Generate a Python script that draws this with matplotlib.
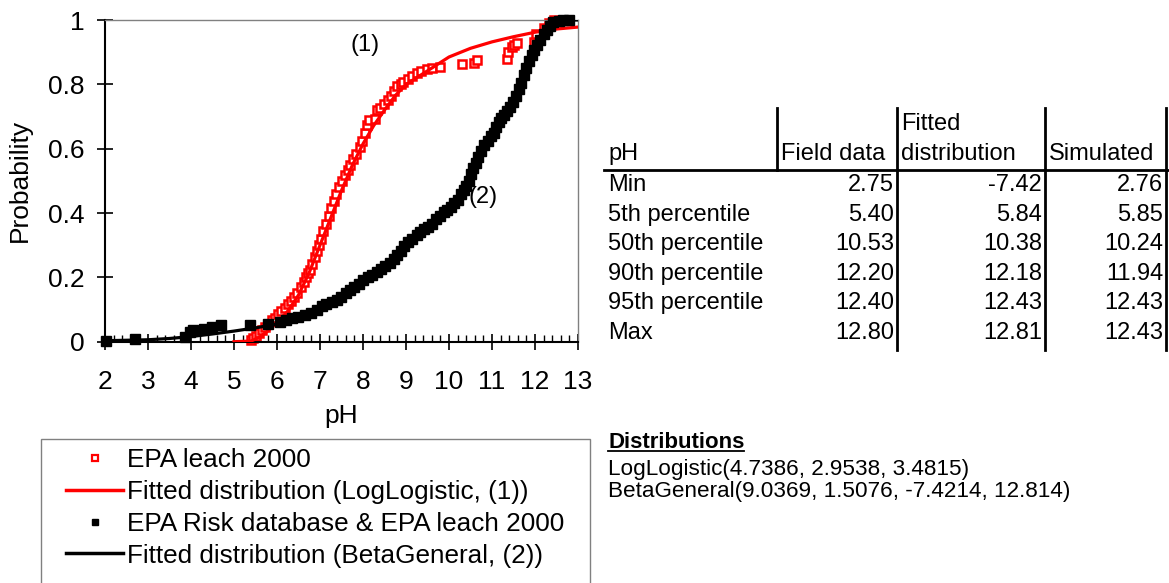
import numpy as np
import matplotlib
matplotlib.use('Agg')
import matplotlib.pyplot as plt
from matplotlib.lines import Line2D
from matplotlib.patches import Rectangle

plt.rcParams['font.family'] = ['Liberation Sans', 'DejaVu Sans']

red_ph = [5.40, 5.45, 5.52, 5.58, 5.65, 5.72, 5.80, 5.88, 5.95, 6.02, 6.10, 6.18, 6.25, 6.32,
          6.40, 6.47, 6.55, 6.62, 6.68, 6.72, 6.76, 6.82, 6.88, 6.93, 6.98, 7.03, 7.08, 7.14,
          7.20, 7.26, 7.32, 7.38, 7.45, 7.52, 7.58, 7.64, 7.70, 7.76, 7.84, 7.92, 7.98, 8.04,
          8.10, 8.14, 8.28, 8.32, 8.40, 8.50, 8.58, 8.64, 8.72, 8.80, 8.88, 8.94, 9.05, 9.15,
          9.25, 9.35, 9.48, 9.60, 9.78, 10.30, 10.58, 10.66, 11.34, 11.37, 11.46, 11.52, 11.58,
          11.98, 12.02, 12.20, 12.32, 12.45]
red_prob = [0.005, 0.010, 0.018, 0.027, 0.036, 0.046, 0.056, 0.066, 0.075, 0.085, 0.096, 0.106,
            0.117, 0.128, 0.140, 0.152, 0.170, 0.185, 0.200, 0.212, 0.224, 0.240, 0.262, 0.282,
            0.300, 0.320, 0.345, 0.365, 0.390, 0.415, 0.438, 0.460, 0.480, 0.500, 0.518, 0.534,
            0.550, 0.568, 0.585, 0.606, 0.625, 0.650, 0.675, 0.690, 0.692, 0.720, 0.728, 0.740,
            0.752, 0.765, 0.778, 0.795, 0.800, 0.808, 0.818, 0.826, 0.834, 0.843, 0.848, 0.850,
            0.855, 0.862, 0.867, 0.876, 0.880, 0.900, 0.915, 0.922, 0.928, 0.932, 0.958, 0.975,
            0.990, 1.000]

# fitted LogLogistic curve (1)
red_fit_ph = [5.00, 5.40, 5.60, 5.80, 6.00, 6.25, 6.50, 6.75, 7.00, 7.25, 7.50, 7.75, 8.00,
              8.25, 8.50, 8.75, 9.00, 9.50, 10.00, 10.50, 11.00, 11.50, 12.00, 12.50, 13.00]
red_fit_prob = [0.000, 0.002, 0.015, 0.035, 0.058, 0.095, 0.145, 0.215, 0.300, 0.385, 0.470,
                0.548, 0.615, 0.672, 0.720, 0.765, 0.800, 0.842, 0.885, 0.912, 0.932, 0.948,
                0.962, 0.972, 0.978]

# EPA Risk database & EPA leach 2000 - empirical cumulative probabilities
black_ph = [2.02, 2.70, 3.86, 3.98, 4.05, 4.30, 4.48, 4.70, 5.37, 5.80, 6.07, 6.20, 6.34, 6.50,
            6.65, 6.80, 6.92, 7.04, 7.15, 7.28, 7.39, 7.50, 7.60, 7.70, 7.80, 7.90, 8.01, 8.12,
            8.22, 8.32, 8.42, 8.52, 8.63, 8.72, 8.80, 8.88, 8.96, 9.05, 9.15, 9.25, 9.33, 9.42,
            9.52, 9.60, 9.70, 9.79, 9.88, 9.96, 10.04, 10.12, 10.20, 10.28, 10.34, 10.40, 10.46,
            10.52, 10.56, 10.62, 10.68, 10.74, 10.82, 10.90, 10.98, 11.04, 11.10, 11.16, 11.22,
            11.28, 11.34, 11.42, 11.50, 11.56, 11.62, 11.68, 11.74, 11.80, 11.86, 11.92, 11.97,
            12.04, 12.12, 12.20, 12.27, 12.35, 12.43, 12.55, 12.66, 12.80]
black_prob = [0.002, 0.007, 0.014, 0.030, 0.036, 0.039, 0.046, 0.052, 0.053, 0.056, 0.060, 0.066,
              0.073, 0.078, 0.083, 0.090, 0.098, 0.112, 0.118, 0.124, 0.130, 0.140, 0.150, 0.161,
              0.170, 0.180, 0.192, 0.200, 0.208, 0.218, 0.226, 0.235, 0.246, 0.258, 0.270, 0.282,
              0.296, 0.310, 0.320, 0.332, 0.340, 0.350, 0.358, 0.366, 0.382, 0.392, 0.402, 0.410,
              0.418, 0.430, 0.442, 0.458, 0.472, 0.485, 0.498, 0.520, 0.540, 0.556, 0.575, 0.592,
              0.610, 0.624, 0.638, 0.650, 0.668, 0.682, 0.694, 0.705, 0.716, 0.730, 0.745, 0.765,
              0.785, 0.805, 0.830, 0.852, 0.872, 0.892, 0.906, 0.922, 0.938, 0.955, 0.968, 0.982,
              0.993, 0.998, 1.000, 1.000]

# fitted BetaGeneral curve (2)
black_fit_ph = [2.0, 3.0, 3.5, 4.0, 4.5, 5.0, 5.5, 6.0, 6.5, 7.0, 7.5, 8.0, 8.5, 9.0, 9.5,
                10.0, 10.5, 11.0, 11.5, 12.0, 12.4, 12.7, 12.81, 13.0]
black_fit_prob = [0.003, 0.006, 0.010, 0.016, 0.024, 0.033, 0.043, 0.055, 0.072, 0.100, 0.135,
                  0.185, 0.232, 0.298, 0.358, 0.415, 0.510, 0.640, 0.750, 0.915, 0.985, 0.998,
                  1.000, 1.000]

x_ticks = list(range(2, 14))
y_ticks = [0, 0.2, 0.4, 0.6, 0.8, 1]
y_tick_labels = ['0', '0.2', '0.4', '0.6', '0.8', '1']

legend_labels = ['EPA leach 2000', 'Fitted distribution (LogLogistic, (1))',
                 'EPA Risk database & EPA leach 2000', 'Fitted distribution (BetaGeneral, (2))']

table_rows = ['Min', '5th percentile', '50th percentile', '90th percentile', '95th percentile', 'Max']
field_data = [2.75, 5.40, 10.53, 12.20, 12.40, 12.80]
fitted_dist = [-7.42, 5.84, 10.38, 12.18, 12.43, 12.81]
simulated = [2.76, 5.85, 10.24, 11.94, 12.43, 12.43]
dist_params = ['LogLogistic(4.7386, 2.9538, 3.4815)',
               'BetaGeneral(9.0369, 1.5076, -7.4214, 12.814)']

W, H = 1169, 583
fx = lambda px: px / W
fy = lambda py: 1 - py / H

fig = plt.figure(figsize=(W / 100, H / 100), dpi=100)
ax = fig.add_axes([fx(105), fy(341.7), (578 - 105) / W, 321.7 / H])

ax.plot(red_ph, red_prob, ls='none', marker='s', ms=5.5, mfc='white', mec='red',
        mew=1.8, clip_on=False, zorder=2)
ax.plot(red_fit_ph, red_fit_prob, color='red', lw=2.3, zorder=3)
ax.plot(black_ph, black_prob, ls='none', marker='s', ms=7.5, color='black',
        clip_on=False, zorder=4)
ax.plot(black_fit_ph, black_fit_prob, color='black', lw=2.3, zorder=5)

ax.set_xlim(2, 13)
ax.set_ylim(0, 1)
ax.set_xticks(x_ticks)
ax.set_xticks(np.arange(2, 13.01, 0.2), minor=True)
ax.set_yticks(y_ticks)
ax.set_yticklabels(y_tick_labels)
ax.tick_params(axis='x', which='major', direction='inout', length=11, width=1.2, labelsize=19, pad=15)
ax.tick_params(axis='x', which='minor', direction='in', length=5, width=1)
ax.tick_params(axis='y', which='major', direction='inout', length=11, width=1.2, labelsize=19, pad=9)
for s in ['left', 'bottom']:
    ax.spines[s].set_linewidth(1.5)
for s in ['top', 'right']:
    ax.spines[s].set_color('#808080')
    ax.spines[s].set_linewidth(1)
ax.set_xlabel('pH', fontsize=19, labelpad=7)
ax.set_ylabel('Probability', fontsize=19, labelpad=12)

ax.text(8.05, 0.922, '(1)', fontsize=17, ha='center', va='center')
ax.text(10.8, 0.45, '(2)', fontsize=17, ha='center', va='center')

# legend below the plot, smaller markers than in the chart
handles = [Line2D([], [], ls='none', marker='s', ms=4.5, mfc='white', mec='red', mew=1.6),
           Line2D([], [], color='red', lw=2.5),
           Line2D([], [], ls='none', marker='s', ms=5, color='black'),
           Line2D([], [], color='black', lw=2.5)]
fig.legend(handles, legend_labels, loc='upper left',
           bbox_to_anchor=(fx(66), fy(448)), frameon=False, fontsize=18.8, numpoints=1,
           handlelength=2.2, handletextpad=0.12, labelspacing=0.3, borderpad=0,
           borderaxespad=0)
fig.patches.append(Rectangle((fx(41), fy(600)), (590 - 41) / W, (600 - 439) / H,
                             transform=fig.transFigure, fill=False, edgecolor='#808080', lw=1))

# statistics table
tfs = 17
for xl in [897, 1045, 1166]:
    fig.add_artist(Line2D([fx(xl), fx(xl)], [fy(108), fy(350)], color='black', lw=2))
fig.add_artist(Line2D([fx(777), fx(777)], [fy(108), fy(170)], color='black', lw=2))
fig.add_artist(Line2D([fx(604), fx(1169)], [fy(170), fy(170)], color='black', lw=2))
fig.text(fx(608), fy(154), 'pH', fontsize=tfs, va='center')
fig.text(fx(781), fy(154), 'Field data', fontsize=tfs, va='center')
fig.text(fx(901), fy(124), 'Fitted', fontsize=tfs, va='center')
fig.text(fx(901), fy(154), 'distribution', fontsize=tfs, va='center')
fig.text(fx(1049), fy(154), 'Simulated', fontsize=tfs, va='center')
for i, name in enumerate(table_rows):
    yy = fy(185 + i * 29.6)
    fig.text(fx(608), yy, name, fontsize=tfs, va='center')
    fig.text(fx(894), yy, '%.2f' % field_data[i], fontsize=tfs, va='center', ha='right')
    fig.text(fx(1042), yy, '%.2f' % fitted_dist[i], fontsize=tfs, va='center', ha='right')
    fig.text(fx(1163), yy, '%.2f' % simulated[i], fontsize=tfs, va='center', ha='right')

# distribution parameters
t = fig.text(fx(608), fy(442), 'Distributions', fontsize=16, fontweight='bold', va='center')
fig.text(fx(608), fy(469), dist_params[0], fontsize=16.2, va='center')
fig.text(fx(608), fy(491), dist_params[1], fontsize=16.2, va='center')
fig.canvas.draw()
bb = t.get_window_extent().transformed(fig.transFigure.inverted())
fig.add_artist(Line2D([bb.x0, bb.x1], [bb.y0 + 0.003, bb.y0 + 0.003], color='black', lw=1.3))

fig.savefig('out.png', dpi=100)
